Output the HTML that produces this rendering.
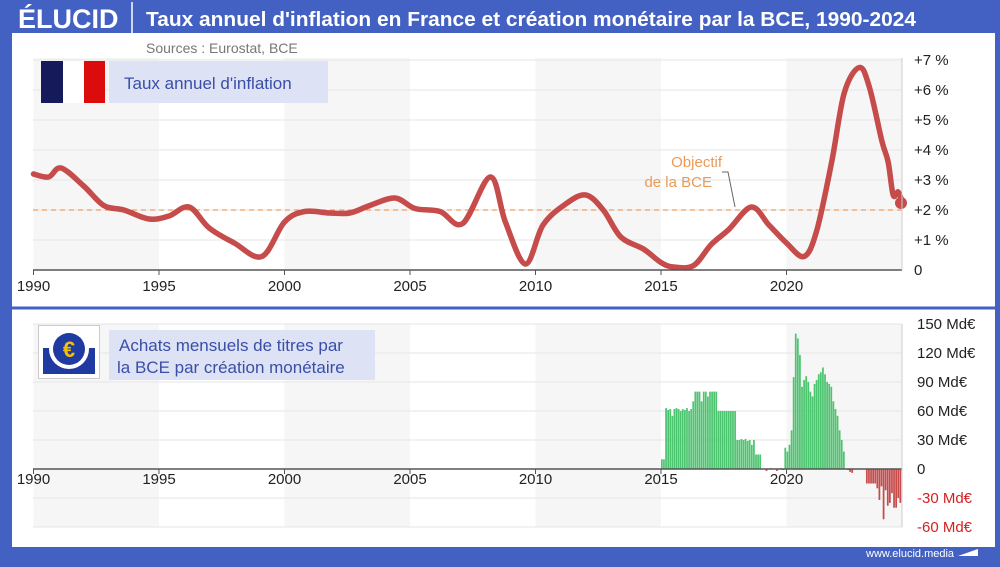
<!DOCTYPE html>
<html><head><meta charset="utf-8"><style>
body{margin:0;width:1000px;height:562px;overflow:hidden;background:#4361c2;font-family:"Liberation Sans",sans-serif}
</style></head><body>
<svg id="s" width="1000" height="562" xmlns="http://www.w3.org/2000/svg" font-family="Liberation Sans, sans-serif">
<rect x="0" y="0" width="1000" height="562" fill="#4361c2"/>
<rect x="12" y="33" width="983" height="514" fill="#fff"/>
<text x="18" y="28" fill="#fff" font-size="27" font-weight="bold">ÉLUCID</text>
<line x1="132" y1="2" x2="132" y2="33" stroke="#fff" stroke-width="1.5"/>
<text x="146" y="26" fill="#fff" font-size="20" font-weight="bold" textLength="770" lengthAdjust="spacingAndGlyphs">Taux annuel d'inflation en France et création monétaire par la BCE, 1990-2024</text>
<text x="146" y="53" fill="#777" font-size="14">Sources : Eurostat, BCE</text>
<g id="bands"></g>
<g id="grid" stroke="#e6e6e6" stroke-width="1"></g>
<line x1="33" y1="210" x2="902" y2="210" stroke="#f0a060" stroke-width="1.3" stroke-dasharray="5,4"/>
<text x="722" y="167" fill="#eb9a55" font-size="15" text-anchor="end">Objectif</text>
<text x="712" y="187" fill="#eb9a55" font-size="15" text-anchor="end">de la BCE</text>
<polyline points="722,172 728,172 735,207" fill="none" stroke="#666" stroke-width="1"/>
<path id="curve" fill="none" stroke="#c64b4b" stroke-width="5.5" stroke-linecap="round" stroke-linejoin="round"/>
<circle cx="901" cy="203" r="6" fill="#c64b4b"/>
<g id="bars"></g>
<line x1="33" y1="270" x2="902" y2="270" stroke="#555" stroke-width="1.5"/>
<line x1="33" y1="469" x2="902" y2="469" stroke="#555" stroke-width="1.5"/>
<line x1="902" y1="58" x2="902" y2="270" stroke="#ccc"/>
<line x1="902" y1="324" x2="902" y2="527" stroke="#ccc"/>
<g id="labels" font-size="15" fill="#222"></g>
<line x1="12" y1="308" x2="995" y2="308" stroke="#4361c2" stroke-width="3"/>
<rect x="41" y="61" width="22" height="42" fill="#151a5a"/>
<rect x="63" y="61" width="21" height="42" fill="#fff"/>
<rect x="84" y="61" width="21" height="42" fill="#dd0c0c"/>
<rect x="109" y="61" width="219" height="42" fill="#dde3f5"/>
<text x="124" y="89" fill="#3a4ea8" font-size="17">Taux annuel d'inflation</text>
<rect x="38.5" y="325.5" width="61" height="53" fill="#fff" stroke="#ccc"/>
<rect x="43" y="348" width="52" height="26" fill="#1f3aa0"/>
<circle cx="69" cy="349" r="20" fill="#fff"/>
<circle cx="69" cy="349" r="16" fill="#1f3aa0"/>
<text x="69" y="357" fill="#f2c200" font-size="22" font-weight="bold" text-anchor="middle">€</text>
<rect x="109" y="330" width="266" height="50" fill="#dde3f5"/>
<text x="119" y="351" fill="#3a4ea8" font-size="17">Achats mensuels de titres par</text>
<text x="117" y="373" fill="#3a4ea8" font-size="17">la BCE par création monétaire</text>
<text x="866" y="557" fill="#fff" font-size="11">www.elucid.media</text>
<polygon points="958,556 978,549 978,556" fill="#fff"/>
</svg>
<script>
const NS="http://www.w3.org/2000/svg";
function X(y){return 33.5+25.1*(y-1990);}
function el(p,t,a,txt){const e=document.createElementNS(NS,t);for(const k in a)e.setAttribute(k,a[k]);if(txt!==undefined)e.textContent=txt;document.getElementById(p).appendChild(e);return e;}
[[1990,1995],[2000,2005],[2010,2015],[2020,2024.6]].forEach(b=>{
 el("bands","rect",{x:X(b[0]),y:58,width:X(b[1])-X(b[0]),height:212,fill:"#f6f6f6"});
 el("bands","rect",{x:X(b[0]),y:324,width:X(b[1])-X(b[0]),height:203,fill:"#f6f6f6"});
});
for(let i=1;i<=7;i++)el("grid","line",{x1:33,x2:902,y1:270-30*i,y2:270-30*i});
for(let v=-60;v<=150;v+=30){if(v)el("grid","line",{x1:33,x2:902,y1:469-v*0.967,y2:469-v*0.967});}
el("grid","line",{x1:33,x2:902,y1:527,y2:527});
for(let y=1990;y<=2020;y+=5){
 el("labels","text",{x:X(y),y:291,"text-anchor":"middle"},String(y));
 el("labels","text",{x:X(y),y:484,"text-anchor":"middle"},String(y));
 el("labels","line",{x1:X(y),x2:X(y),y1:270,y2:275,stroke:"#555"});
 el("labels","line",{x1:X(y),x2:X(y),y1:469,y2:474,stroke:"#555"});
}
for(let i=0;i<=7;i++)el("labels","text",{x:914,y:275-30*i},i?"+"+i+" %":"0");
for(let v=-60;v<=150;v+=30){el("labels","text",{x:917,y:474-v*0.967,fill:v<0?"#d42020":"#222"},v?v+" Md€":"0");}
const P=[[1990,3.2],[1990.6,3.1],[1991.1,3.4],[1992,2.8],[1992.8,2.15],[1993.6,2.0],[1994.6,1.7],[1995.4,1.8],[1996.2,2.1],[1997,1.4],[1998,0.9],[1999.1,0.45],[2000,1.6],[2000.8,1.95],[2001.8,1.9],[2002.6,1.9],[2003.4,2.15],[2004.4,2.4],[2005.2,2.05],[2006.2,1.95],[2007.1,1.55],[2008.2,3.1],[2008.8,1.6],[2009.6,0.2],[2010.3,1.5],[2011.2,2.2],[2012,2.5],[2012.7,2.0],[2013.4,1.1],[2014.3,0.7],[2015,0.25],[2015.5,0.1],[2016.3,0.15],[2017,0.85],[2017.7,1.35],[2018.6,2.1],[2019.3,1.5],[2020,0.9],[2020.7,0.45],[2021.2,1.3],[2021.8,3.6],[2022.3,5.9],[2022.9,6.75],[2023.3,6.1],[2023.8,4.3],[2024.05,3.6],[2024.25,2.5],[2024.45,2.6],[2024.6,2.3]];
const pts=P.map(p=>[X(p[0]),270-30*p[1]]);
let d="M"+pts[0][0]+","+pts[0][1];
for(let i=0;i<pts.length-1;i++){const p0=pts[Math.max(0,i-1)],p1=pts[i],p2=pts[i+1],p3=pts[Math.min(pts.length-1,i+2)];
 const c1=[p1[0]+(p2[0]-p0[0])/6,p1[1]+(p2[1]-p0[1])/6],c2=[p2[0]-(p3[0]-p1[0])/6,p2[1]-(p3[1]-p1[1])/6];
 d+=" C"+c1+" "+c2+" "+p2;}
document.getElementById("curve").setAttribute("d",d);
const B={};
function set(a,b,v){for(let m=Math.round((a-2015)*12);m<Math.round((b-2015)*12);m++)B[m]=typeof v=="function"?v(m):v;}
set(2015,2015.17,10);set(2015.17,2016.25,m=>[60,62,63,61,62,55,62,63,62,60,62,61,63][m%13]);
set(2016.25,2017.25,m=>[80,80,80,70,80,80,80,70,80,80,75,80][m%12]);
set(2017.25,2018,60);set(2018,2018.75,m=>[30,30,31,30,31,29,30,25,30][m%9]);set(2018.75,2019,15);
set(2019,2019.9,m=>[-2,0,1,-1,0,0,-2,0,1,0,0][m%11]);
const v2=[22,18,25,40,95,140,135,118,85,92,96,90,80,75,88,92,98,100,105,98,90,88,85,70,62,55,40,30,18,0,-1,-3,-4,0,0,0];
v2.forEach((v,i)=>B[Math.round((2019.9-2015)*12)+i]=v);
const neg=[-15,-15,-15,-15,-15,-20,-32,-18,-52,-22,-38,-35,-25,-40,-40,-30,-35,-22,-30];
const s0=Math.round((2023.2-2015)*12);
neg.forEach((v,i)=>B[s0+i]=v);
const w=25.1/12;
for(const k in B){const v=B[k];if(!v)continue;const x=X(2015)+k*w;if(x+w>903.5)continue;const h=Math.abs(v)*0.967;
 el("bars","rect",{x:x,y:v>0?469-h:469,width:w-0.35,height:h,fill:v>0?"#4dc46f":"#c64b4b"});}
</script>
</body></html>
